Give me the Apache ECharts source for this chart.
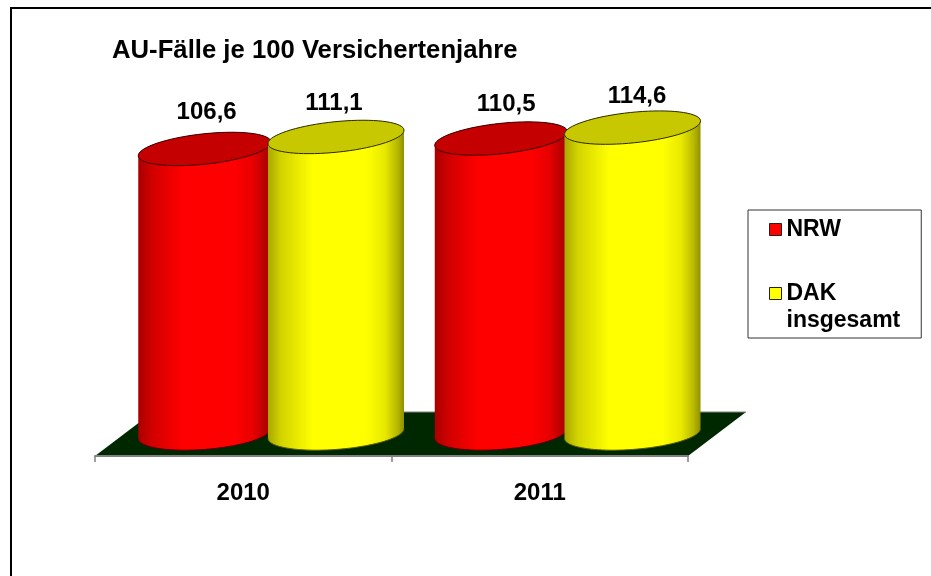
<!DOCTYPE html>
<html><head><meta charset="utf-8">
<style>html,body{margin:0;padding:0;background:#fff}#c{width:931px;height:576px}</style>
<script src="https://cdn.jsdelivr.net/npm/echarts@6/dist/echarts.min.js"></script>
</head><body><div id="c"></div>
<script>
const categories = ['2010', '2011'];
const nrwValues = [106.6, 110.5];
const dakValues = [111.1, 114.6];
const titleText = 'AU-Fälle je 100 Versichertenjahre';
const nrwName = 'NRW';
const dakName = 'DAK insgesamt';

const FONT = '"Liberation Sans", Arial, sans-serif';
const depth = [58, -44];         // floor depth vector
const baseLift = -22.5;          // cylinders stand mid-way along the floor depth
const ellVy = 16.7, topVx = 27, botVx = 20;

function makeEll(halfW, vx, cx, cy) {
  const R = Math.sqrt(halfW * halfW - vx * vx);
  const t0 = Math.atan2(vx, R);
  const at = t => [cx + R * Math.cos(t) + vx * Math.sin(t), cy - ellVy * Math.sin(t)];
  return {
    t0,
    arc(a, b, n) {
      const pts = [];
      for (let i = 0; i <= n; i++) pts.push(at(a + (b - a) * i / n));
      return pts;
    }
  };
}
function grad(stops) {
  return new echarts.graphic.LinearGradient(0, 0, 1, 0,
    stops.map(s => ({offset: s[0], color: s[1]})));
}
function cylinder(offset, halfW, side, topColor, edgeColor, topEdge, labelNudge) {
  return function (params, api) {
    const i = params.dataIndex;
    const v = api.value(1);
    const top = api.coord([api.value(0), v]);
    const base = api.coord([api.value(0), 0]);
    const cx = top[0] + offset;
    const yT = top[1] + baseLift, yB = base[1] + baseLift;
    const eT = makeEll(halfW, topVx, cx, yT);
    const eB = makeEll(halfW, botVx, cx, yB);
    const front = eB.arc(eB.t0 + Math.PI, eB.t0 + 2 * Math.PI, 48);
    const backTop = eT.arc(eT.t0, eT.t0 + Math.PI, 48);
    return {type: 'group', children: [
      {type: 'polygon', shape: {points: front.concat(backTop)}, style: {fill: side}},
      {type: 'polyline', shape: {points: front}, style: {fill: null, stroke: edgeColor, lineWidth: 1}},
      {type: 'polygon', shape: {points: eT.arc(0, 2 * Math.PI, 72)},
        style: {fill: topColor, stroke: topEdge, lineWidth: 1}},
      {type: 'text', style: {text: String(v).replace('.', ','), x: cx + labelNudge[i][0], y: yT - ellVy + labelNudge[i][1],
        align: 'center', verticalAlign: 'middle', fill: '#000', font: 'bold 24px ' + FONT}}
    ]};
  };
}
function floorItem(params, api) {
  if (params.dataIndex !== 0) return;
  const band = api.size([1, 0])[0];
  const o = api.coord([0, 0]);
  const l = o[0] - band / 2, r = l + band * categories.length, y = o[1];
  const pts = [[l, y], [r, y], [r + depth[0], y + depth[1]], [l + depth[0], y + depth[1]]];
  return {type: 'group', children: [
    {type: 'polygon', shape: {points: pts}, style: {fill: '#002800'}},
    {type: 'line', shape: {x1: pts[2][0], y1: pts[2][1], x2: pts[3][0], y2: pts[3][1]}, style: {stroke: '#808080', lineWidth: 1}}
  ]};
}
function rows(vals) { return categories.map((c, i) => [c, vals[i]]); }

const chart = echarts.init(document.getElementById('c'), null, {renderer: 'canvas'});
chart.setOption({
  animation: false,
  backgroundColor: '#fff',
  title: {text: titleText, left: 112, top: 38, padding: 0,
    textStyle: {fontFamily: FONT, fontWeight: 'bold', fontSize: 25.7, color: '#000'}},
  grid: {left: 95, top: 109, width: 593, height: 347, containLabel: false},
  xAxis: {type: 'category', data: categories, boundaryGap: true, z: 6,
    axisLine: {lineStyle: {color: '#808080', width: 2}},
    axisTick: {show: true, alignWithLabel: false, length: 6, lineStyle: {color: '#808080', width: 1.5}},
    axisLabel: {margin: 25, color: '#000', fontFamily: FONT, fontWeight: 'bold', fontSize: 24}},
  yAxis: {type: 'value', min: 0, max: 130, show: false, splitLine: {show: false}},
  legend: {left: 748, top: 210, orient: 'vertical', align: 'left',
    data: [nrwName, dakName], selectedMode: false,
    backgroundColor: '#fff', borderColor: '#333', borderWidth: 1, borderRadius: 0,
    padding: [6, 21, 4, 21], itemGap: 10, itemWidth: 12, itemHeight: 12, icon: 'rect',
    itemStyle: {borderColor: '#222', borderWidth: 1},
    formatter: n => n === dakName ? '\nDAK\ninsgesamt' : n,
    textStyle: {fontFamily: FONT, fontWeight: 'bold', fontSize: 23, lineHeight: 27, color: '#000'}},
  graphic: [{type: 'rect', shape: {x: 11, y: 8, width: 1100, height: 800},
    style: {fill: null, stroke: '#000', lineWidth: 2}, silent: true, z: 20}],
  series: [
    {type: 'custom', name: 'Boden', z: 1, clip: false, data: rows(nrwValues), encode: {x: 0, y: 1}, renderItem: floorItem, silent: true},
    {type: 'custom', name: nrwName, z: 2, clip: false, data: rows(nrwValues), encode: {x: 0, y: 1},
      itemStyle: {color: '#ff0000'},
      renderItem: cylinder(-38.6, 66.4,
        grad([[0, '#a80000'], [0.1, '#d00000'], [0.33, '#ff0000'], [0.72, '#ff0000'], [0.86, '#e80000'], [1, '#a00000']]),
        '#c40000', '#5a0000', '#3a0000', [[2, -19.5], [5, -17]])},
    {type: 'custom', name: dakName, z: 3, clip: false, data: rows(dakValues), encode: {x: 0, y: 1},
      itemStyle: {color: '#ffff00'},
      renderItem: cylinder(92.75, 68,
        grad([[0, '#a8a800'], [0.1, '#d4d400'], [0.33, '#ffff00'], [0.72, '#ffff00'], [0.86, '#e8e800'], [0.95, '#b8b800'], [1, '#909000']]),
        '#c8c800', '#5a5a00', '#2a2a00', [[-2, -17], [4.5, -15]])}
  ]
});
</script></body></html>
